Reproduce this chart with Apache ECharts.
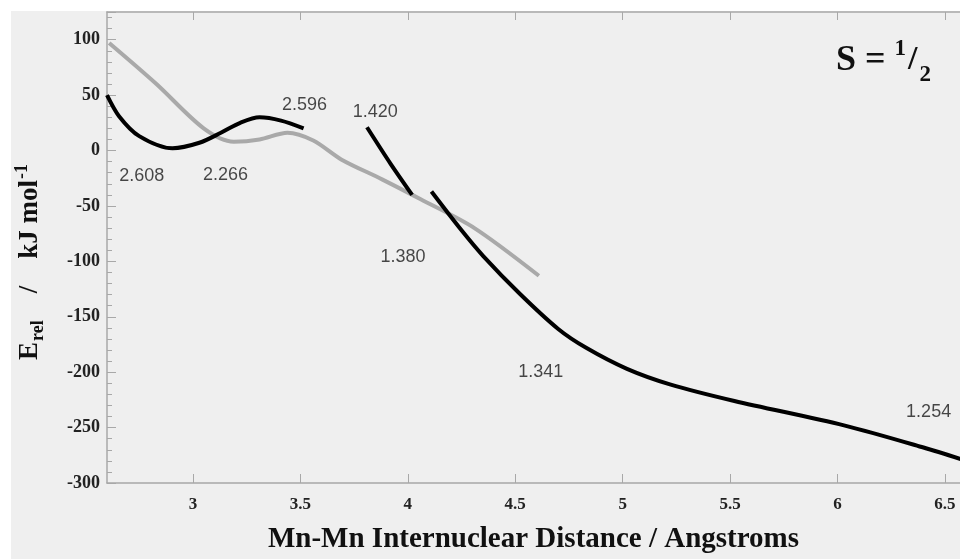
<!DOCTYPE html>
<html>
<head>
<meta charset="utf-8">
<script src="https://cdn.jsdelivr.net/npm/echarts@6/dist/echarts.min.js"></script>
<style>
  html, body { margin: 0; padding: 0; background: #fff; }
  #chart { width: 960px; height: 559px; }
</style>
</head>
<body>
<div id="chart"></div>
<script>
// black curve, first branch (x in Angstrom, y in kJ/mol)
var blackA = [
  [2.6, 50], [2.656, 31], [2.75, 13], [2.905, 2], [3.03, 7], [3.13, 16],
  [3.22, 25], [3.31, 30], [3.41, 27], [3.515, 20]
];
// black curve, short middle branch
var blackB = [[3.81, 21], [3.92, -12], [4.02, -40]];
// black curve, long right branch
var blackC = [
  [4.11, -37], [4.25, -72], [4.35, -95], [4.52, -129], [4.7, -161],
  [4.83, -178], [5.02, -197], [5.22, -211], [5.52, -226], [6.03, -248],
  [6.4, -268], [6.6, -280]
];
// grey curve
var greyLine = [
  [2.61, 97], [2.83, 60], [3.05, 20], [3.19, 8], [3.31, 10], [3.44, 16],
  [3.56, 9], [3.69, -8], [3.88, -26], [4.06, -44], [4.31, -70], [4.61, -113]
];
// annotation labels (text, x, y)
var notes = [
  ["2.608", 2.762, -23], ["2.266", 3.152, -22], ["2.596", 3.519, 41],
  ["1.420", 3.848, 35], ["1.380", 3.978, -96], ["1.341", 4.619, -200],
  ["1.254", 6.424, -236]
];
var xTicks = [3, 3.5, 4, 4.5, 5, 5.5, 6, 6.5];

var chart = echarts.init(document.getElementById("chart"));

var serif = "Liberation Serif";
var axisGrey = "#a8a8a8";

function curve(data, color) {
  return {
    type: "line",
    data: data,
    smooth: 0.3,
    showSymbol: false,
    lineStyle: { color: color, width: 4 },
    z: color === "#000" ? 3 : 2,
    silent: true
  };
}

chart.setOption({
  backgroundColor: "#fff",
  animation: false,
  graphic: [
    {
      type: "rect",
      shape: { x: 11, y: 11, width: 949, height: 548 },
      style: { fill: "#efefef" },
      z: -10
    },
    {
      type: "text",
      left: 836,
      top: 38,
      style: {
        text: "{s|S = }{sup|1}{sl|/}{sub|2}",
        rich: {
          s: { fontFamily: serif, fontWeight: "bold", fontSize: 36, fill: "#111" },
          sup: { fontFamily: serif, fontWeight: "bold", fontSize: 23, fill: "#111", padding: [0, 2, 22, 0] },
          sl: { fontFamily: serif, fontWeight: "bold", fontSize: 34, fill: "#111" },
          sub: { fontFamily: serif, fontWeight: "bold", fontSize: 23, fill: "#111", padding: [30, 0, 0, 2] }
        }
      }
    },
    {
      // y axis title, rotated
      type: "text",
      x: 30,
      y: 262,
      rotation: Math.PI / 2,
      style: {
        text: "{b|E}{sub|rel}{b|    /    kJ mol}{sup|-1}",
        align: "center",
        verticalAlign: "middle",
        rich: {
          b: { fontFamily: serif, fontWeight: "bold", fontSize: 27, fill: "#111" },
          sub: { fontFamily: serif, fontWeight: "bold", fontSize: 18, fill: "#111", padding: [16, 0, 0, 1] },
          sup: { fontFamily: serif, fontWeight: "bold", fontSize: 18, fill: "#111", padding: [0, 0, 16, 1] }
        }
      }
    }
  ],
  grid: { left: 107, right: 0, top: 12, bottom: 75 },
  xAxis: [
    {
      type: "value",
      min: 2.6,
      max: 6.57,
      name: "Mn-Mn Internuclear Distance / Angstroms",
      nameLocation: "middle",
      nameGap: 42,
      nameTextStyle: { fontFamily: serif, fontWeight: "bold", fontSize: 29, color: "#111" },
      axisLine: { onZero: false, lineStyle: { color: axisGrey, width: 1.5 } },
      axisTick: { inside: true, length: 9, customValues: xTicks, lineStyle: { color: axisGrey } },
      axisLabel: {
        customValues: xTicks,
        fontFamily: serif, fontWeight: "bold", fontSize: 17, color: "#222", margin: 13
      },
      splitLine: { show: false }
    },
    {
      type: "value",
      position: "top",
      min: 2.6,
      max: 6.57,
      axisLine: { onZero: false, lineStyle: { color: axisGrey, width: 1.5 } },
      axisTick: { inside: true, length: 8, customValues: xTicks, lineStyle: { color: axisGrey } },
      axisLabel: { show: false },
      splitLine: { show: false }
    }
  ],
  yAxis: {
    type: "value",
    min: -300,
    max: 125,
    interval: 50,
    axisLine: { onZero: false, lineStyle: { color: axisGrey, width: 1.5 } },
    axisTick: { inside: true, length: 9, lineStyle: { color: axisGrey } },
    minorTick: { show: true, splitNumber: 5, length: 5, lineStyle: { color: axisGrey } },
    axisLabel: {
      fontFamily: serif, fontWeight: "bold", fontSize: 18, color: "#222", margin: 7,
      formatter: function (v) { return v % 50 === 0 ? String(v) : ""; }
    },
    splitLine: { show: false }
  },
  series: [
    curve(greyLine, "#a9a9a9"),
    curve(blackA, "#000"),
    curve(blackB, "#000"),
    curve(blackC, "#000"),
    {
      type: "scatter",
      symbolSize: 0,
      silent: true,
      data: notes.map(function (n) { return { name: n[0], value: [n[1], n[2]] }; }),
      label: {
        show: true,
        position: "inside",
        formatter: "{b}",
        fontFamily: "Liberation Sans",
        fontSize: 18,
        color: "#1a1a1a"
      },
      z: 5
    }
  ]
});
</script>
</body>
</html>
